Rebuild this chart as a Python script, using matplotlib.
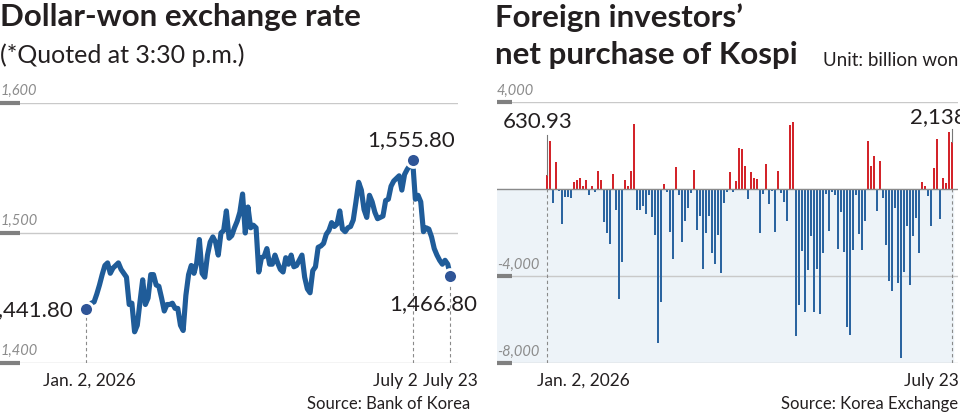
import matplotlib.pyplot as plt

plt.rcParams['font.family'] = ['Lato', 'DejaVu Sans']

# Dollar-won rate, trading days Jan. 2 - July 23, 2026
rate = [1441.8, 1443, 1446, 1447, 1453, 1460, 1468, 1475, 1477, 1469,
        1473, 1475, 1477, 1472, 1469, 1466, 1445, 1446, 1424, 1429,
        1447, 1464, 1445, 1450, 1468, 1468, 1460, 1459, 1450, 1440,
        1445, 1445, 1446, 1442, 1442, 1429, 1425, 1452, 1468, 1475,
        1469, 1477, 1495, 1469, 1466, 1483, 1493, 1497, 1493, 1483,
        1500, 1502, 1517, 1496, 1498, 1504, 1509, 1516, 1530, 1500,
        1520, 1504, 1506, 1504, 1470, 1481, 1482, 1488, 1476, 1476,
        1483, 1477, 1472, 1470, 1481, 1476, 1483, 1474, 1475, 1479,
        1483, 1466, 1457, 1454, 1471, 1474, 1489, 1490, 1492, 1499,
        1502, 1508, 1505, 1507, 1517, 1503, 1501, 1504, 1505, 1510,
        1524, 1539, 1533, 1518, 1512, 1529, 1524, 1516, 1511, 1512,
        1513, 1525, 1526, 1536, 1540, 1542, 1544, 1533, 1545, 1549,
        1552, 1555.8, 1526, 1529, 1524, 1501, 1504, 1503, 1497, 1488,
        1483, 1479, 1476, 1479, 1476, 1466.8]

# foreign net purchase of Kospi, billion won
net_buy = [630.93, 2185, -645, 1260, -90, -1630, -385, -350, -430, 340,
           415, 520, 120, 430, -260, 120, -150, 830, 400, -1510,
           -2000, -2550, 690, -950, -5050, -3350, 430, 120, 830, 2985,
           -950, -950, -770,
           -1150, -280, -1300, -2100, -7100, -5180, 215, -150, -1970, -3200,
           1000, -280, -2415, -1460, -860, -185, 860, -1890, -1260, -3700,
           -2000, -1260, -2950, -3450, -2120, -3880, -660, -150, 800, -150,
           350, 1890, 1850, 1060, -480,
           800, 490, 460, -2030, -230, 1140, -690, -110, -1970, 850,
           -185, -615, -1480, 2920, 3100, -6740, -5340, -2860, -5650, -3740,
           -2180, -5650, -3690, -5770, -2950, -245, -1940, -120, -260, -2750,
           -1080, -2890, -6350, -6710, -2800,
           -280, -2050, -2800, -1490, 2200, 1060, 1520, -1015, 1280, -400,
           -2570, -4250, -4710, -890, -4310, -7780, -3815, -1710, -4400, -2180,
           -1320, -2950, 320, 120, -340, -1710, 950, 2300, -1380, 510,
           290, 2615, 2138]

rate_ticks = [1400, 1500, 1600]
rate_labels = ['1,400', '1,500', '1,600']
buy_ticks = [4000, -4000, -8000]
buy_labels = ['4,000', '-4,000', '-8,000']

W, H = 960, 414
INK = '#231f20'
GRAY = '#8c8c8c'
GRID = '#c9c9c9'
LINE = '#1f5c99'
DOT = '#2f5597'
RED = '#d3242a'
BLUE = '#2b64a0'


def box(x0, x1, ytop, ybot):
    return [x0 / W, 1 - ybot / H, (x1 - x0) / W, (ybot - ytop) / H]


def ftext(x, y, s, **kw):
    fig.text(x / W, 1 - y / H, s, **kw)


fig = plt.figure(figsize=(9.6, 4.14), dpi=100)

# ---- left: exchange rate line
ax1 = fig.add_axes(box(0, 458, 104, 364))
ax1.set_facecolor('none')
days = list(range(len(rate)))
ax1.set_xlim(-31.85, 137.8)
ax1.set_ylim(1400, 1600)
for t in rate_ticks:
    ax1.axhline(t, color=GRID, lw=1, zorder=1)
ax1.plot(days, rate, color=LINE, lw=3.7, solid_joinstyle='round',
         solid_capstyle='round', zorder=3)

marks = [0, 121, 135]
for i in marks:
    ax1.plot([i, i], [1400, rate[i]], color='#8a8a8a', lw=0.8,
             ls=(0, (3, 2.5)), zorder=2)
    ax1.plot(i, rate[i], 'o', ms=10, color=DOT, mec='white', mew=2, zorder=4)
for s in ax1.spines.values():
    s.set_visible(False)
ax1.set_xticks([])
ax1.set_yticks([])

# the reference crops the leading "1" at the left edge
ax1.text(-5, rate[0], '1,441.80', ha='right', va='center', fontsize=16,
         color=INK, clip_on=False)
ax1.text(120.5, 1555.8 + 9, '1,555.80', ha='center', va='bottom', fontsize=16,
         color=INK)
ax1.text(128.5, rate[135] - 13, '1,466.80', ha='center', va='top', fontsize=16,
         color=INK)

for t, lab in zip(rate_ticks, rate_labels):
    ax1.text(-31.85, t + 5, lab, ha='left', va='bottom', fontsize=10.5,
             style='italic', color=GRAY)
    ax1.plot([-31.85, -24.5], [t, t], color='#808080', lw=3,
             solid_capstyle='butt', clip_on=False, zorder=2)

ftext(89, 381, 'Jan. 2, 2026', ha='center', va='center', fontsize=12.5, color=INK)
ftext(418, 381, 'July 2', ha='right', va='center', fontsize=12.5, color=INK)
ftext(450, 381, 'July 23', ha='center', va='center', fontsize=12.5, color=INK)
ftext(470, 404, 'Source: Bank of Korea', ha='right', va='center',
      fontsize=12, color=INK)

ftext(0, 3, 'Dollar-won exchange rate', ha='left', va='top', fontsize=22.5,
      fontweight='bold', color=INK)
ftext(0, 55, '(*Quoted at 3:30 p.m.)', ha='left', va='center', fontsize=18,
      color=INK)

# ---- right: foreign net purchase bars
ax2 = fig.add_axes(box(497, 958, 103, 364))
ax2.set_facecolor('none')
ax2.set_xlim(-16.67, 137)
ax2.set_ylim(-8000, 4000)
ax2.axhspan(-8000, 0, xmax=(953 - 497) / (958 - 497), color='#edf3f8', zorder=0)
for t in buy_ticks:
    ax2.axhline(t, color=GRID, lw=1, zorder=1)
ax2.axhline(0, color='#8a8a8a', lw=1, zorder=3)
bar_days = list(range(len(net_buy)))
colors = [RED if v > 0 else BLUE for v in net_buy]
ax2.bar(bar_days, net_buy, width=0.8, color=colors, zorder=2)
for i in [0, len(net_buy) - 1]:
    ax2.plot([i, i], [-8000, 0], color='#8a8a8a', lw=0.8, ls=(0, (3, 2.5)),
             zorder=2)
ax2.plot([0, 0], [net_buy[0], 2500], color='#777777', lw=0.8, zorder=2)
ax2.plot([135, 135], [net_buy[-1], 2750], color='#777777', lw=0.8, zorder=2)
for s in ax2.spines.values():
    s.set_visible(False)
ax2.set_xticks([])
ax2.set_yticks([])

ax2.text(-3, 2650, '630.93', ha='center', va='bottom', fontsize=16, color=INK)
ax2.text(121, 2900, '2,138', ha='left', va='bottom', fontsize=16, color=INK,
         clip_on=False)

for t, lab in zip(buy_ticks, buy_labels):
    ax2.text(-16.67, t + 250, lab, ha='left', va='bottom', fontsize=10.5,
             style='italic', color=GRAY, clip_on=False)
    ax2.plot([-16.67, -11.67], [t, t], color='#808080', lw=3,
             solid_capstyle='butt', clip_on=False, zorder=2)

ftext(537, 381, 'Jan. 2, 2026', ha='left', va='center', fontsize=12.5, color=INK)
ftext(959, 381, 'July 23', ha='right', va='center', fontsize=12.5, color=INK)
ftext(958, 404, 'Source: Korea Exchange', ha='right', va='center',
      fontsize=12, color=INK)

ftext(495, 3, 'Foreign investors\u2019', ha='left', va='top', fontsize=22.5,
      fontweight='bold', color=INK)
ftext(495, 41, 'net purchase of Kospi', ha='left', va='top', fontsize=22.5,
      fontweight='bold', color=INK)
ftext(958, 60, 'Unit: billion won', ha='right', va='center', fontsize=13.5,
      color=INK)

fig.savefig('out.png', dpi=100)
